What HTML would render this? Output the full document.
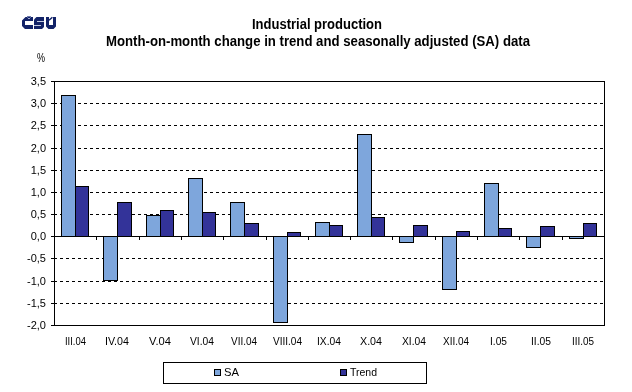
<!DOCTYPE html>
<html><head><meta charset="utf-8"><style>
html,body{margin:0;padding:0;background:#fff;width:632px;height:392px;overflow:hidden}
.w{position:relative;width:632px;height:392px}
.b{position:absolute;box-sizing:border-box;border:1px solid #000}
.k{position:absolute;background:#000}
.d{position:absolute;background:repeating-linear-gradient(to right,#000 0,#000 3px,transparent 3px,transparent 6px)}
svg{position:absolute;left:0;top:0}
text{font-family:"Liberation Sans",sans-serif;font-size:11px;fill:#000}
text.t{font-weight:bold;font-size:14px}
svg{will-change:transform}
</style></head><body><div class="w">
<div class="d" style="left:54px;top:103px;width:550px;height:1px"></div><div class="d" style="left:54px;top:125px;width:550px;height:1px"></div><div class="d" style="left:54px;top:148px;width:550px;height:1px"></div><div class="d" style="left:54px;top:170px;width:550px;height:1px"></div><div class="d" style="left:54px;top:192px;width:550px;height:1px"></div><div class="d" style="left:54px;top:214px;width:550px;height:1px"></div><div class="d" style="left:54px;top:258px;width:550px;height:1px"></div><div class="d" style="left:54px;top:281px;width:550px;height:1px"></div><div class="d" style="left:54px;top:303px;width:550px;height:1px"></div><div class="b" style="left:61px;top:95px;width:15px;height:142px;background:#7ea6dc"></div><div class="b" style="left:75px;top:186px;width:14px;height:51px;background:#333399"></div><div class="b" style="left:103px;top:236px;width:15px;height:45px;background:#7ea6dc"></div><div class="b" style="left:117px;top:202px;width:15px;height:35px;background:#333399"></div><div class="b" style="left:146px;top:215px;width:15px;height:22px;background:#7ea6dc"></div><div class="b" style="left:160px;top:210px;width:14px;height:27px;background:#333399"></div><div class="b" style="left:188px;top:178px;width:15px;height:59px;background:#7ea6dc"></div><div class="b" style="left:202px;top:212px;width:14px;height:25px;background:#333399"></div><div class="b" style="left:230px;top:202px;width:15px;height:35px;background:#7ea6dc"></div><div class="b" style="left:244px;top:223px;width:15px;height:14px;background:#333399"></div><div class="b" style="left:273px;top:236px;width:15px;height:87px;background:#7ea6dc"></div><div class="b" style="left:287px;top:232px;width:14px;height:5px;background:#333399"></div><div class="b" style="left:315px;top:222px;width:15px;height:15px;background:#7ea6dc"></div><div class="b" style="left:329px;top:225px;width:14px;height:12px;background:#333399"></div><div class="b" style="left:357px;top:134px;width:15px;height:103px;background:#7ea6dc"></div><div class="b" style="left:371px;top:217px;width:14px;height:20px;background:#333399"></div><div class="b" style="left:399px;top:236px;width:15px;height:7px;background:#7ea6dc"></div><div class="b" style="left:413px;top:225px;width:15px;height:12px;background:#333399"></div><div class="b" style="left:442px;top:236px;width:15px;height:54px;background:#7ea6dc"></div><div class="b" style="left:456px;top:231px;width:14px;height:6px;background:#333399"></div><div class="b" style="left:484px;top:183px;width:15px;height:54px;background:#7ea6dc"></div><div class="b" style="left:498px;top:228px;width:14px;height:9px;background:#333399"></div><div class="b" style="left:526px;top:236px;width:15px;height:12px;background:#7ea6dc"></div><div class="b" style="left:540px;top:226px;width:15px;height:11px;background:#333399"></div><div class="b" style="left:569px;top:236px;width:15px;height:3px;background:#7ea6dc"></div><div class="b" style="left:583px;top:223px;width:14px;height:14px;background:#333399"></div><div class="k" style="left:54px;top:81px;width:551px;height:1px"></div><div class="k" style="left:54px;top:325px;width:551px;height:1px"></div><div class="k" style="left:54px;top:81px;width:1px;height:245px"></div><div class="k" style="left:604px;top:81px;width:1px;height:245px"></div><div class="k" style="left:54px;top:236px;width:551px;height:1px"></div><div class="k" style="left:96px;top:237px;width:1px;height:3px"></div><div class="k" style="left:139px;top:237px;width:1px;height:3px"></div><div class="k" style="left:181px;top:237px;width:1px;height:3px"></div><div class="k" style="left:223px;top:237px;width:1px;height:3px"></div><div class="k" style="left:266px;top:237px;width:1px;height:3px"></div><div class="k" style="left:308px;top:237px;width:1px;height:3px"></div><div class="k" style="left:350px;top:237px;width:1px;height:3px"></div><div class="k" style="left:392px;top:237px;width:1px;height:3px"></div><div class="k" style="left:435px;top:237px;width:1px;height:3px"></div><div class="k" style="left:477px;top:237px;width:1px;height:3px"></div><div class="k" style="left:519px;top:237px;width:1px;height:3px"></div><div class="k" style="left:562px;top:237px;width:1px;height:3px"></div><div class="k" style="left:51px;top:81px;width:3px;height:1px"></div><div class="k" style="left:51px;top:103px;width:3px;height:1px"></div><div class="k" style="left:51px;top:125px;width:3px;height:1px"></div><div class="k" style="left:51px;top:148px;width:3px;height:1px"></div><div class="k" style="left:51px;top:170px;width:3px;height:1px"></div><div class="k" style="left:51px;top:192px;width:3px;height:1px"></div><div class="k" style="left:51px;top:214px;width:3px;height:1px"></div><div class="k" style="left:51px;top:236px;width:3px;height:1px"></div><div class="k" style="left:51px;top:258px;width:3px;height:1px"></div><div class="k" style="left:51px;top:281px;width:3px;height:1px"></div><div class="k" style="left:51px;top:303px;width:3px;height:1px"></div><div class="k" style="left:51px;top:325px;width:3px;height:1px"></div><div class="b" style="left:163px;top:362px;width:264px;height:22px;background:#fff"></div><div class="b" style="left:214px;top:369px;width:7px;height:7px;background:#7ea6dc"></div><div class="b" style="left:340px;top:369px;width:7px;height:7px;background:#333399"></div>
<svg width="632" height="392" viewBox="0 0 632 392"><text x="46" y="85" text-anchor="end">3,5</text><text x="46" y="107" text-anchor="end">3,0</text><text x="46" y="129" text-anchor="end">2,5</text><text x="46" y="152" text-anchor="end">2,0</text><text x="46" y="174" text-anchor="end">1,5</text><text x="46" y="196" text-anchor="end">1,0</text><text x="46" y="218" text-anchor="end">0,5</text><text x="46" y="240" text-anchor="end">0,0</text><text x="46" y="262" text-anchor="end">-0,5</text><text x="46" y="285" text-anchor="end">-1,0</text><text x="46" y="307" text-anchor="end">-1,5</text><text x="46" y="329" text-anchor="end">-2,0</text><text x="65" y="345" textLength="21" lengthAdjust="spacingAndGlyphs">III.04</text><text x="105" y="345" textLength="24" lengthAdjust="spacingAndGlyphs">IV.04</text><text x="149" y="345" textLength="22" lengthAdjust="spacingAndGlyphs">V.04</text><text x="190" y="345" textLength="24" lengthAdjust="spacingAndGlyphs">VI.04</text><text x="231" y="345" textLength="26" lengthAdjust="spacingAndGlyphs">VII.04</text><text x="273" y="345" textLength="29" lengthAdjust="spacingAndGlyphs">VIII.04</text><text x="317" y="345" textLength="24" lengthAdjust="spacingAndGlyphs">IX.04</text><text x="360" y="345" textLength="22" lengthAdjust="spacingAndGlyphs">X.04</text><text x="402" y="345" textLength="24" lengthAdjust="spacingAndGlyphs">XI.04</text><text x="443" y="345" textLength="26" lengthAdjust="spacingAndGlyphs">XII.04</text><text x="490" y="345" textLength="17" lengthAdjust="spacingAndGlyphs">I.05</text><text x="531" y="345" textLength="20" lengthAdjust="spacingAndGlyphs">II.05</text><text x="572" y="345" textLength="22" lengthAdjust="spacingAndGlyphs">III.05</text><text x="37" y="62" textLength="8" lengthAdjust="spacingAndGlyphs" style="font-size:12px">%</text><text x="224" y="376" textLength="15" lengthAdjust="spacingAndGlyphs">SA</text><text x="350" y="376" textLength="27" lengthAdjust="spacingAndGlyphs">Trend</text><text class="t" x="252" y="29" textLength="130" lengthAdjust="spacingAndGlyphs">Industrial production</text><text class="t" x="106" y="46" textLength="424" lengthAdjust="spacingAndGlyphs">Month-on-month change in trend and seasonally adjusted (SA) data</text></svg>
<svg width="632" height="392" viewBox="0 0 632 392"><g fill="#132368">
<path d="M25.5,17 H33 V21 H25 V25 H33 V29 H25 L22,26 V20.5 Z"/>
<rect x="28" y="18" width="2" height="1" fill="#a3abcf"/>
<rect x="27" y="16" width="4" height="1" fill="#6a76a8"/>
<rect x="27" y="17" width="1" height="1" fill="#5a679e"/>
<rect x="30" y="17" width="1" height="1" fill="#5a679e"/>
<path d="M36.5,17 H44 V27 L42,29 H34 V19.5 Z"/>
<rect x="37" y="21" width="7" height="1" fill="#c4cbe0"/>
<rect x="34" y="25" width="7" height="1" fill="#c4cbe0"/>
<path d="M46,17 H49 V25 H53 V17 H56 V26.5 L53.5,29 H48.5 L46,26.5 Z"/>
<line x1="49" y1="20.2" x2="52.4" y2="17.2" stroke="#132368" stroke-width="1.5"/>
</g></svg>
</div></body></html>
